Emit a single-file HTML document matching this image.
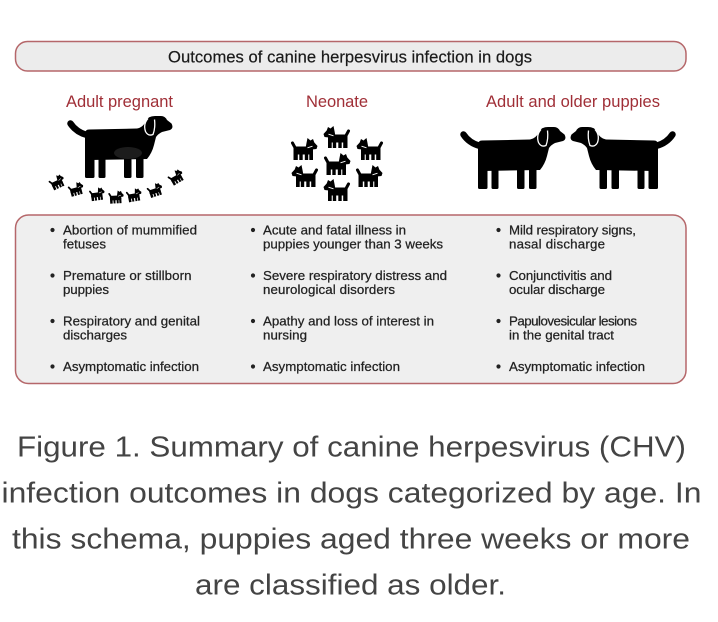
<!DOCTYPE html>
<html>
<head>
<meta charset="utf-8">
<style>
  html, body { margin: 0; padding: 0; background: #ffffff; }
  body { width: 718px; height: 622px; overflow: hidden; }
  svg { display: block; }
  .t { font-family: "Liberation Sans", Arial, sans-serif; }
  .li { font-size: 13.3px; fill: #222; stroke: #222; stroke-width: 0.25; }
  .hd { font-size: 16.5px; fill: #a02f37; }
  .cap { font-size: 29px; fill: #444; }
</style>
</head>
<body>
<svg width="718" height="622" viewBox="0 0 718 622" xmlns="http://www.w3.org/2000/svg">
  <defs>
    <g id="dog">
      <path d="M19,19 Q8,16 2.5,7.5" fill="none" stroke="#000" stroke-width="6.5" stroke-linecap="round"/>
      <path d="M17,18 Q17,13.5 21,13.5 L69,12.5 Q75,11.5 78,5 Q80,0 87,0 L93,0 Q97,0 99,4 L103.5,7.5 Q106,12 102,14 L94,16 Q90,18 88,21 L86,29 Q84,37 79,43 L22,44 Q17,44 17,39 Z" fill="#000"/>
      <rect x="17" y="34" width="9.5" height="28" rx="1.5" fill="#000"/>
      <rect x="30.5" y="34" width="7" height="28" rx="1.5" fill="#000"/>
      <rect x="56" y="34" width="7.5" height="28" rx="1.5" fill="#000"/>
      <rect x="68" y="34" width="7.5" height="28" rx="1.5" fill="#000"/>
      <path d="M80,2.5 Q75,8 77.5,15.5 Q80,20.5 85,18.5 Q87.5,12 86.5,3.5" fill="#000" stroke="#fff" stroke-width="1.3"/>
    </g>
    <g id="pup">
      <path d="M4.5,10.5 L1.5,5" stroke="#000" stroke-width="3" stroke-linecap="round"/>
      <rect x="2.5" y="8.5" width="19.5" height="8" rx="1.5" fill="#000"/>
      <rect x="2.5" y="13" width="4.3" height="9" fill="#000"/>
      <rect x="8.3" y="13" width="3.4" height="9" fill="#000"/>
      <rect x="13.8" y="13" width="3.4" height="9" fill="#000"/>
      <rect x="18.3" y="13" width="3.7" height="9" fill="#000"/>
      <path d="M14.5,10.5 L15.5,5 L16.5,0 L19.5,2.5 L22,1 L23.3,4.5 L26.5,8 L25.5,11 L21,11.5 Z" fill="#000"/>
      <path d="M16.5,9.8 L21.5,8.2" stroke="#fff" stroke-width="0.9"/>
    </g>
  </defs>

  <!-- Header box -->
  <rect x="15.5" y="41.5" width="670.5" height="29.5" rx="12" ry="12" fill="#ececec" stroke="#b5676a" stroke-width="1.5"/>
  <text class="t" x="168" y="62.3" font-size="16.6" fill="#1a1a1a" stroke="#1a1a1a" stroke-width="0.2" textLength="364">Outcomes of canine herpesvirus infection in dogs</text>

  <!-- Column headers -->
  <text class="t hd" x="66" y="107" textLength="107">Adult pregnant</text>
  <text class="t hd" x="306" y="107" textLength="62">Neonate</text>
  <text class="t hd" x="486" y="107" textLength="174">Adult and older puppies</text>

  <!-- Pregnant dog -->
  <use href="#dog" transform="translate(68,116)"/>
  <ellipse cx="128" cy="153" rx="14" ry="6" fill="#1c1c1c"/>
  <!-- tiny fetuses -->
  <use href="#pup" transform="translate(57,182) rotate(-25) scale(0.58) translate(-13,-11)"/>
  <use href="#pup" transform="translate(76,189) rotate(-15) scale(0.58) translate(-13,-11)"/>
  <use href="#pup" transform="translate(97,194) rotate(-8) scale(0.58) translate(-13,-11)"/>
  <use href="#pup" transform="translate(116,197) rotate(-3) scale(0.58) translate(-13,-11)"/>
  <use href="#pup" transform="translate(134,195) rotate(-10) scale(0.58) translate(-13,-11)"/>
  <use href="#pup" transform="translate(155,190) rotate(-18) scale(0.58) translate(-13,-11)"/>
  <use href="#pup" transform="translate(176,177) rotate(-30) scale(0.58) translate(-13,-11)"/>

  <!-- Neonate cluster -->
  <use href="#pup" transform="translate(350,126) scale(-1,1)"/>
  <use href="#pup" transform="translate(291,138)"/>
  <use href="#pup" transform="translate(383,138) scale(-1,1)"/>
  <use href="#pup" transform="translate(324,153)"/>
  <use href="#pup" transform="translate(318,165) scale(-1,1)"/>
  <use href="#pup" transform="translate(356,165)"/>
  <use href="#pup" transform="translate(350,179) scale(-1,1)"/>

  <!-- Adult dogs -->
  <use href="#dog" transform="translate(461,127)"/>
  <use href="#dog" transform="translate(675,127) scale(-1,1)"/>

  <!-- Outcomes box -->
  <rect x="15.5" y="215" width="670.5" height="168.5" rx="13" ry="13" fill="#efefef" stroke="#b5676a" stroke-width="1.5"/>

  <g fill="#222">
    <circle cx="52.5" cy="230" r="2.1"/>
    <circle cx="52.5" cy="275.5" r="2.1"/>
    <circle cx="52.5" cy="321" r="2.1"/>
    <circle cx="52.5" cy="366.5" r="2.1"/>
    <circle cx="253" cy="230" r="2.1"/>
    <circle cx="253" cy="275.5" r="2.1"/>
    <circle cx="253" cy="321" r="2.1"/>
    <circle cx="253" cy="366.5" r="2.1"/>
    <circle cx="498.5" cy="230" r="2.1"/>
    <circle cx="498.5" cy="275.5" r="2.1"/>
    <circle cx="498.5" cy="321" r="2.1"/>
    <circle cx="498.5" cy="366.5" r="2.1"/>
  </g>
  <!-- Column 1 -->
  <text class="t li" x="63" y="234.5" textLength="134">Abortion of mummified</text>
  <text class="t li" x="63" y="248.5" textLength="43">fetuses</text>
  <text class="t li" x="63" y="280" textLength="128.5">Premature or stillborn</text>
  <text class="t li" x="63" y="294" textLength="46">puppies</text>
  <text class="t li" x="63" y="325.5" textLength="137">Respiratory and genital</text>
  <text class="t li" x="63" y="339.5" textLength="64">discharges</text>
  <text class="t li" x="63" y="371" textLength="136">Asymptomatic infection</text>

  <!-- Column 2 -->
  <text class="t li" x="263" y="234.5" textLength="143">Acute and fatal illness in</text>
  <text class="t li" x="263" y="248.5" textLength="180">puppies younger than 3 weeks</text>
  <text class="t li" x="263" y="280" textLength="184">Severe respiratory distress and</text>
  <text class="t li" x="263" y="294" textLength="132">neurological disorders</text>
  <text class="t li" x="263" y="325.5" textLength="171">Apathy and loss of interest in</text>
  <text class="t li" x="263" y="339.5" textLength="44">nursing</text>
  <text class="t li" x="263" y="371" textLength="137">Asymptomatic infection</text>

  <!-- Column 3 -->
  <text class="t li" x="509" y="234.5" textLength="127">Mild respiratory signs,</text>
  <text class="t li" x="509" y="248.5" textLength="96">nasal discharge</text>
  <text class="t li" x="509" y="280" textLength="103">Conjunctivitis and</text>
  <text class="t li" x="509" y="294" textLength="96">ocular discharge</text>
  <text class="t li" x="509" y="325.5" textLength="128">Papulovesicular lesions</text>
  <text class="t li" x="509" y="339.5" textLength="105">in the genital tract</text>
  <text class="t li" x="509" y="371" textLength="136">Asymptomatic infection</text>

  <!-- Caption -->
  <text class="t cap" x="17" y="456.7" textLength="669" lengthAdjust="spacingAndGlyphs">Figure 1. Summary of canine herpesvirus (CHV)</text>
  <text class="t cap" x="1.5" y="502.7" textLength="700" lengthAdjust="spacingAndGlyphs">infection outcomes in dogs categorized by age. In</text>
  <text class="t cap" x="12" y="548.5" textLength="678" lengthAdjust="spacingAndGlyphs">this schema, puppies aged three weeks or more</text>
  <text class="t cap" x="195" y="594.5" textLength="311" lengthAdjust="spacingAndGlyphs">are classified as older.</text>
</svg>
</body>
</html>
